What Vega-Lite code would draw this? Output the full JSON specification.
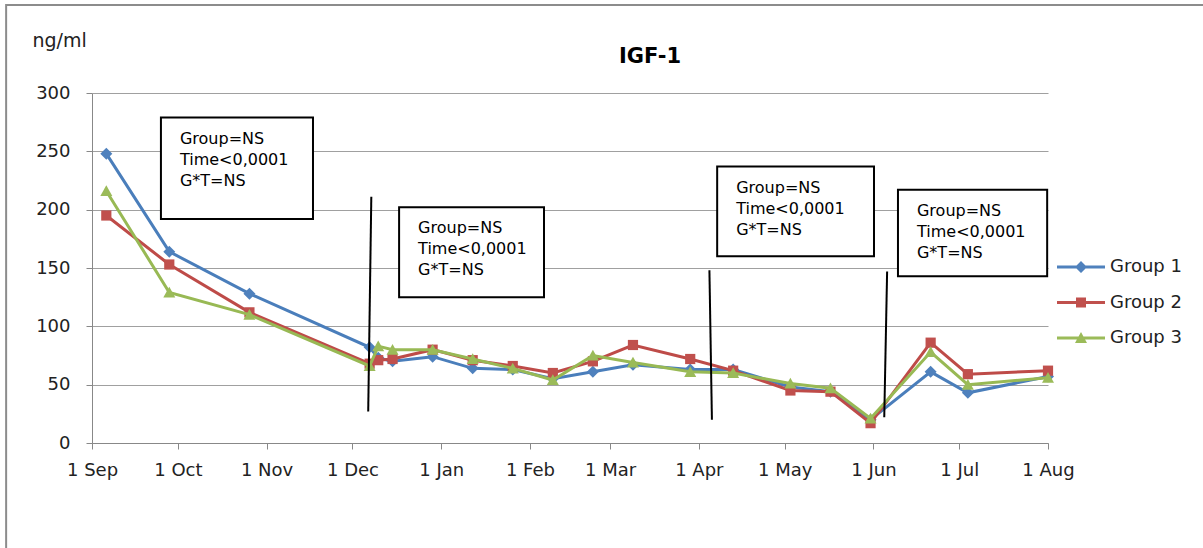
{
  "$schema": "https://vega.github.io/schema/vega-lite/v6.json",
  "width": 956,
  "height": 350,
  "autosize": "none",
  "padding": {"left": 92, "top": 93, "right": 155, "bottom": 105},
  "background": "white",
  "config": {"view": {"stroke": null}, "font": "DejaVu Sans"},
  "title": {"text": "IGF-1", "fontSize": 21, "fontWeight": "bold", "font": "DejaVu Sans", "color": "#000000", "anchor": "middle", "frame": "group", "dx": 80, "offset": -80, "baseline": "alphabetic"},
  "datasets": {
    "series": [
      {"group": "Group 1", "date": "2010-09-06", "value": 248},
      {"group": "Group 1", "date": "2010-09-28", "value": 164},
      {"group": "Group 1", "date": "2010-10-26", "value": 128},
      {"group": "Group 1", "date": "2010-12-07", "value": 82},
      {"group": "Group 1", "date": "2010-12-10", "value": 73},
      {"group": "Group 1", "date": "2010-12-15", "value": 70},
      {"group": "Group 1", "date": "2010-12-29", "value": 74},
      {"group": "Group 1", "date": "2011-01-12", "value": 64},
      {"group": "Group 1", "date": "2011-01-26", "value": 63},
      {"group": "Group 1", "date": "2011-02-09", "value": 55},
      {"group": "Group 1", "date": "2011-02-23", "value": 61},
      {"group": "Group 1", "date": "2011-03-09", "value": 67},
      {"group": "Group 1", "date": "2011-03-29", "value": 63},
      {"group": "Group 1", "date": "2011-04-13", "value": 63},
      {"group": "Group 1", "date": "2011-05-03", "value": 48},
      {"group": "Group 1", "date": "2011-05-17", "value": 44},
      {"group": "Group 1", "date": "2011-05-31", "value": 20},
      {"group": "Group 1", "date": "2011-06-21", "value": 61},
      {"group": "Group 1", "date": "2011-07-04", "value": 43},
      {"group": "Group 1", "date": "2011-08-01", "value": 57},
      {"group": "Group 2", "date": "2010-09-06", "value": 195},
      {"group": "Group 2", "date": "2010-09-28", "value": 153},
      {"group": "Group 2", "date": "2010-10-26", "value": 112},
      {"group": "Group 2", "date": "2010-12-07", "value": 68},
      {"group": "Group 2", "date": "2010-12-10", "value": 71},
      {"group": "Group 2", "date": "2010-12-15", "value": 72},
      {"group": "Group 2", "date": "2010-12-29", "value": 80},
      {"group": "Group 2", "date": "2011-01-12", "value": 71},
      {"group": "Group 2", "date": "2011-01-26", "value": 66},
      {"group": "Group 2", "date": "2011-02-09", "value": 60},
      {"group": "Group 2", "date": "2011-02-23", "value": 70},
      {"group": "Group 2", "date": "2011-03-09", "value": 84},
      {"group": "Group 2", "date": "2011-03-29", "value": 72},
      {"group": "Group 2", "date": "2011-04-13", "value": 62},
      {"group": "Group 2", "date": "2011-05-03", "value": 45},
      {"group": "Group 2", "date": "2011-05-17", "value": 44},
      {"group": "Group 2", "date": "2011-05-31", "value": 17},
      {"group": "Group 2", "date": "2011-06-21", "value": 86},
      {"group": "Group 2", "date": "2011-07-04", "value": 59},
      {"group": "Group 2", "date": "2011-08-01", "value": 62},
      {"group": "Group 3", "date": "2010-09-06", "value": 216},
      {"group": "Group 3", "date": "2010-09-28", "value": 129},
      {"group": "Group 3", "date": "2010-10-26", "value": 110},
      {"group": "Group 3", "date": "2010-12-07", "value": 66},
      {"group": "Group 3", "date": "2010-12-10", "value": 83},
      {"group": "Group 3", "date": "2010-12-15", "value": 80},
      {"group": "Group 3", "date": "2010-12-29", "value": 80},
      {"group": "Group 3", "date": "2011-01-12", "value": 72},
      {"group": "Group 3", "date": "2011-01-26", "value": 64},
      {"group": "Group 3", "date": "2011-02-09", "value": 54},
      {"group": "Group 3", "date": "2011-02-23", "value": 75},
      {"group": "Group 3", "date": "2011-03-09", "value": 69},
      {"group": "Group 3", "date": "2011-03-29", "value": 61},
      {"group": "Group 3", "date": "2011-04-13", "value": 60},
      {"group": "Group 3", "date": "2011-05-03", "value": 51},
      {"group": "Group 3", "date": "2011-05-17", "value": 47},
      {"group": "Group 3", "date": "2011-05-31", "value": 21},
      {"group": "Group 3", "date": "2011-06-21", "value": 78},
      {"group": "Group 3", "date": "2011-07-04", "value": 50},
      {"group": "Group 3", "date": "2011-08-01", "value": 56}
    ],
    "dividers": [
      {"date": "2010-12-07T14:00:00Z", "value": 211, "date2": "2010-12-06T12:00:00Z", "value2": 27},
      {"date": "2011-04-04T17:00:00Z", "value": 148, "date2": "2011-04-05T14:00:00Z", "value2": 20},
      {"date": "2011-06-05T19:00:00Z", "value": 147, "date2": "2011-06-04T19:00:00Z", "value2": 22}
    ],
    "boxes": [
      {"date": "2010-09-25T02:00:00Z", "value": 279, "date2": "2010-11-17T05:00:00Z", "value2": 192, "label": ["Group=NS", "Time<0,0001", "G*T=NS"]},
      {"date": "2010-12-17T07:00:00Z", "value": 202, "date2": "2011-02-05T22:00:00Z", "value2": 125, "label": ["Group=NS", "Time<0,0001", "G*T=NS"]},
      {"date": "2011-04-07T10:00:00Z", "value": 237, "date2": "2011-06-01T05:00:00Z", "value2": 160, "label": ["Group=NS", "Time<0,0001", "G*T=NS"]},
      {"date": "2011-06-09T14:00:00Z", "value": 217, "date2": "2011-07-31T17:00:00Z", "value2": 143, "label": ["Group=NS", "Time<0,0001", "G*T=NS"]}
    ],
    "frame": [
      {"date": "2010-08-02T00:00:00Z", "value": 375.4, "date2": "2011-10-20T00:00:00Z", "value2": -110}
    ]
  },
  "encoding": {
    "x": {
      "field": "date", "type": "temporal",
      "scale": {"type": "utc", "nice": false, "domain": [{"year": 2010, "month": 9, "date": 1, "utc": true}, {"year": 2011, "month": 8, "date": 1, "utc": true}]},
      "axis": {
        "title": null, "grid": false, "format": "%-d %b",
        "values": [
          {"year": 2010, "month": 9, "date": 1, "utc": true},
          {"year": 2010, "month": 10, "date": 1, "utc": true},
          {"year": 2010, "month": 11, "date": 1, "utc": true},
          {"year": 2010, "month": 12, "date": 1, "utc": true},
          {"year": 2011, "month": 1, "date": 1, "utc": true},
          {"year": 2011, "month": 2, "date": 1, "utc": true},
          {"year": 2011, "month": 3, "date": 1, "utc": true},
          {"year": 2011, "month": 4, "date": 1, "utc": true},
          {"year": 2011, "month": 5, "date": 1, "utc": true},
          {"year": 2011, "month": 6, "date": 1, "utc": true},
          {"year": 2011, "month": 7, "date": 1, "utc": true},
          {"year": 2011, "month": 8, "date": 1, "utc": true}
        ],
        "domainColor": "#888888", "domainWidth": 1, "tickColor": "#888888", "tickSize": 6,
        "labelFont": "DejaVu Sans", "labelFontSize": 18, "labelColor": "#222222", "labelPadding": 12,
        "labelOverlap": false, "labelFlush": false, "labelBound": false
      }
    },
    "y": {
      "field": "value", "type": "quantitative",
      "scale": {"domain": [0, 300], "nice": false, "zero": true},
      "axis": {
        "title": "ng/ml", "titleAngle": 0, "titleAlign": "left", "titleBaseline": "alphabetic",
        "titleX": -60, "titleY": -47, "titleFont": "DejaVu Sans", "titleFontSize": 19, "titleFontWeight": "normal", "titleColor": "#222222",
        "values": [0, 50, 100, 150, 200, 250, 300],
        "grid": true, "gridColor": "#a0a0a0", "gridWidth": 1,
        "domainColor": "#888888", "tickColor": "#888888", "tickSize": 6,
        "labelFont": "DejaVu Sans", "labelFontSize": 18, "labelColor": "#222222", "labelPadding": 16
      }
    }
  },
  "layer": [
    {
      "data": {"name": "frame"},
      "mark": {"type": "rect", "fill": null, "fillOpacity": 0, "stroke": "#8c8c8c", "strokeWidth": 2, "clip": false},
      "encoding": {
        "x2": {"field": "date2"},
        "y2": {"field": "value2"}
      }
    },
    {
      "data": {"name": "series"},
      "transform": [{"filter": "datum.group === 'Group 1'"}],
      "mark": {"type": "line", "strokeWidth": 3, "color": "#4A7EBB"}
    },
    {
      "data": {"name": "series"},
      "transform": [{"filter": "datum.group === 'Group 1'"}],
      "mark": {"type": "point", "filled": true, "opacity": 1, "size": 144, "color": "#4F81BD", "shape": "M0,-1L1,0L0,1L-1,0Z"}
    },
    {
      "data": {"name": "series"},
      "transform": [{"filter": "datum.group === 'Group 2'"}],
      "mark": {"type": "line", "strokeWidth": 3, "color": "#BE4B48"}
    },
    {
      "data": {"name": "series"},
      "transform": [{"filter": "datum.group === 'Group 2'"}],
      "mark": {"type": "point", "filled": true, "opacity": 1, "size": 144, "color": "#C0504D", "shape": "M-0.85,-0.85H0.85V0.85H-0.85Z"}
    },
    {
      "data": {"name": "series"},
      "transform": [{"filter": "datum.group === 'Group 3'"}],
      "mark": {"type": "line", "strokeWidth": 3, "color": "#98B954"}
    },
    {
      "data": {"name": "series"},
      "transform": [{"filter": "datum.group === 'Group 3'"}],
      "mark": {"type": "point", "filled": true, "opacity": 1, "size": 144, "color": "#9BBB59", "shape": "M0,-0.95L1,0.85H-1Z"}
    },
    {
      "data": {"name": "series"},
      "transform": [{"filter": "datum.value < -1000"}],
      "mark": {"type": "point", "filled": true, "opacity": 1, "size": 400},
      "encoding": {
        "color": {"field": "group", "type": "nominal",
          "scale": {"domain": ["Group 1", "Group 2", "Group 3"], "range": ["#4F81BD", "#C0504D", "#9BBB59"]},
          "legend": {
            "orient": "none", "legendX": 979, "legendY": 164, "title": null, "padding": 0,
            "labelFont": "DejaVu Sans", "labelFontSize": 18, "labelColor": "#222222",
            "symbolSize": 400, "symbolStrokeWidth": 0, "rowPadding": 16.5, "labelOffset": 19
          }},
        "shape": {"field": "group", "type": "nominal",
          "scale": {"domain": ["Group 1", "Group 2", "Group 3"], "range": [
            "M-2.4,-0.15H-0.45L0,-0.6L0.45,-0.15H2.4V0.15H0.45L0,0.6L-0.45,0.15H-2.4Z",
            "M-2.4,-0.15H-0.5V-0.5H0.5V-0.15H2.4V0.15H0.5V0.5H-0.5V0.15H-2.4Z",
            "M-2.4,-0.15H-0.245L0,-0.6L0.245,-0.15H2.4V0.15H0.409L0.6,0.5H-0.6L-0.409,0.15H-2.4Z"]},
          "legend": {
            "orient": "none", "legendX": 979, "legendY": 164, "title": null, "padding": 0,
            "labelFont": "DejaVu Sans", "labelFontSize": 18, "labelColor": "#222222",
            "symbolSize": 400, "symbolStrokeWidth": 0, "rowPadding": 16.5, "labelOffset": 19
          }}
      }
    },
    {
      "data": {"name": "dividers"},
      "mark": {"type": "rule", "color": "#000000", "strokeWidth": 2},
      "encoding": {
        "x2": {"field": "date2"},
        "y2": {"field": "value2"}
      }
    },
    {
      "data": {"name": "boxes"},
      "mark": {"type": "rect", "fill": "#ffffff", "stroke": "#000000", "strokeWidth": 2},
      "encoding": {
        "x2": {"field": "date2"},
        "y2": {"field": "value2"}
      }
    },
    {
      "data": {"name": "boxes"},
      "mark": {"type": "text", "align": "left", "baseline": "alphabetic", "dx": 19, "dy": 26, "font": "DejaVu Sans", "fontSize": 16, "lineHeight": 21, "color": "#000000"},
      "encoding": {
        "text": {"field": "label"}
      }
    }
  ]
}
